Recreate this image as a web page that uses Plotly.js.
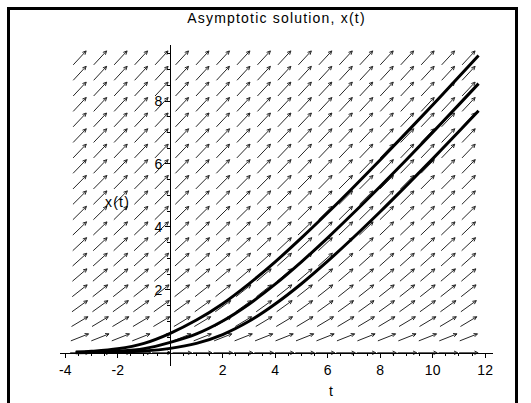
<!DOCTYPE html>
<html>
<head>
<meta charset="utf-8">
<script src="https://cdn.plot.ly/plotly-3.0.1.min.js"></script>
<style>
  html, body { margin: 0; padding: 0; background: #fff; overflow: hidden; }
  #wrap { position: relative; width: 531px; height: 403px; overflow: hidden; }
  #plot { position: absolute; left: 0; top: 0; width: 531px; height: 403px; }
  #frame { position: absolute; left: 7px; top: 7px; width: 505px; height: 500px;
           border: 3px solid #000; pointer-events: none; }
  .gtitle, .annotation-text { letter-spacing: 1.2px; }
</style>
</head>
<body>
<div id="wrap">
  <div id="plot"></div>
  <div id="frame"></div>
</div>
<script>
// ---- data ----
// direction-field grid (t columns, x rows) and slope of the field in each row
const tGrid = [-3.45, -2.67, -1.89, -1.11, -0.33, 0.45, 1.23, 2.01, 2.79, 3.57,
               4.35, 5.13, 5.91, 6.69, 7.47, 8.25, 9.03, 9.81, 10.59, 11.37];
const xGrid = [0, 0.49, 0.99, 1.48, 1.97, 2.47, 2.96, 3.45, 3.95, 4.44,
               4.93, 5.42, 5.92, 6.41, 6.90, 7.40, 7.89, 8.38, 8.88, 9.37];
const rowSlopes = [0, 0.33, 0.50, 0.60, 0.66, 0.71, 0.75, 0.78, 0.80, 0.82,
                   0.83, 0.84, 0.86, 0.87, 0.87, 0.88, 0.89, 0.89, 0.90, 0.90];

// solution curves
const tCurve = [-3.6, -3, -2, -1, 0, 1, 2, 3, 4, 5, 6, 7, 8, 9, 10, 11, 11.75];
const xTop    = [0.025, 0.047, 0.125, 0.300, 0.620, 1.040, 1.560, 2.190, 2.890, 3.650, 4.448, 5.277, 6.127, 6.995, 7.876, 8.770, 9.445];
const xMiddle = [0.009, 0.018, 0.050, 0.130, 0.330, 0.600, 1.010, 1.545, 2.180, 2.890, 3.654, 4.456, 5.285, 6.136, 7.004, 7.885, 8.553];
const xBottom = [0.004, 0.008, 0.020, 0.055, 0.140, 0.300, 0.580, 1.000, 1.550, 2.194, 2.912, 3.678, 4.480, 5.310, 6.162, 7.030, 7.690];

// axis ticks
const tTickVals = [-4, -2, 2, 4, 6, 8, 10, 12];
const tTickText = ["-4", "-2", "2", "4", "6", "8", "10", "12"];
const xTickVals = [2, 4, 6, 8];
const xTickText = ["2", "4", "6", "8"];

// ---- layout geometry ----
const W = 531, H = 403;
const M = {l: 60, r: 38, t: 45, b: 37};
const tRange = [-4.2, 12.3];
const xRange = [-0.42, 9.78];
const pxT = (W - M.l - M.r) / (tRange[1] - tRange[0]);
const pxX = (H - M.t - M.b) / (xRange[1] - xRange[0]);

// build arrows (constant screen length) through data coordinates
const ARROW = 19, HEAD = 4, HEADANG = 26 * Math.PI / 180;
const ax = [], ay = [];
xGrid.forEach((xv, i) => {
  const m = rowSlopes[i];
  const dxp = pxT, dyp = m * pxX;
  const n = Math.hypot(dxp, dyp);
  const ux = dxp / n, uy = dyp / n;        // screen direction (y up)
  tGrid.forEach(tv => {
    const h = ARROW / 2;
    const t0 = tv - h * ux / pxT, x0 = xv - h * uy / pxX;
    const t1 = tv + h * ux / pxT, x1 = xv + h * uy / pxX;
    ax.push(t0, t1, null); ay.push(x0, x1, null);
    [HEADANG, -HEADANG].forEach(a => {
      const bx = -(ux * Math.cos(a) - uy * Math.sin(a));
      const by = -(ux * Math.sin(a) + uy * Math.cos(a));
      ax.push(t1, t1 + HEAD * bx / pxT, null);
      ay.push(x1, x1 + HEAD * by / pxX, null);
    });
  });
});

const traces = [
  {x: ax, y: ay, mode: 'lines', type: 'scatter', hoverinfo: 'skip',
   line: {color: '#262626', width: 1}, connectgaps: false},
  {x: tCurve, y: xTop, mode: 'lines', line: {color: '#000', width: 3, shape: 'spline'}},
  {x: tCurve, y: xMiddle, mode: 'lines', line: {color: '#000', width: 3, shape: 'spline'}},
  {x: tCurve, y: xBottom, mode: 'lines', line: {color: '#000', width: 3, shape: 'spline'}}
];

const tickFont = {family: 'Liberation Sans, Arial, sans-serif', size: 14, color: '#000'};

const layout = {
  width: W, height: H,
  margin: {l: M.l, r: M.r, t: M.t, b: M.b, autoexpand: false},
  paper_bgcolor: 'rgba(0,0,0,0)', plot_bgcolor: 'rgba(0,0,0,0)',
  showlegend: false,
  title: {text: 'Asymptotic solution, x(t)', x: 0.5, xref: 'paper', xanchor: 'center',
          y: 1 - 18 / H, yref: 'container', yanchor: 'middle',
          font: {family: 'Liberation Sans, Arial, sans-serif', size: 14, color: '#000'}},
  xaxis: {range: tRange, anchor: 'free', position: (0 - xRange[0]) / (xRange[1] - xRange[0]),
          showline: true, linecolor: '#000', linewidth: 1, zeroline: false, showgrid: false,
          ticks: 'outside', ticklen: 4, tickcolor: '#000', tickwidth: 1,
          tickmode: 'array', tickvals: tTickVals, ticktext: tTickText, tickfont: tickFont,
          minor: {ticks: 'outside', tickmode: 'linear', tick0: 0, dtick: 0.5, ticklen: 2, tickcolor: '#000', showgrid: false}},
  yaxis: {range: xRange, anchor: 'free', position: (0 - tRange[0]) / (tRange[1] - tRange[0]), side: 'left',
          showline: true, linecolor: '#000', linewidth: 1, zeroline: false, showgrid: false,
          ticks: 'outside', ticklen: 5, tickcolor: '#000', tickwidth: 1,
          tickmode: 'array', tickvals: xTickVals, ticktext: xTickText, tickfont: tickFont,
          minor: {ticks: 'outside', tickmode: 'linear', tick0: 0, dtick: 0.5, ticklen: 3, tickcolor: '#000', showgrid: false}},
  annotations: [
    {text: 't', xref: 'x', x: tRange[1] / 2, yref: 'paper', y: -(391 - (H - M.b)) / (H - M.t - M.b),
     yanchor: 'middle', xanchor: 'center', showarrow: false, font: tickFont},
    {text: 'x(t)', xref: 'paper', x: (117 - M.l) / (W - M.l - M.r), yref: 'paper', y: ((H - M.b) - 202) / (H - M.t - M.b),
     xanchor: 'center', yanchor: 'middle', showarrow: false, font: tickFont}
  ]
};

Plotly.newPlot('plot', traces, layout, {staticPlot: true, displayModeBar: false});
</script>
</body>
</html>
